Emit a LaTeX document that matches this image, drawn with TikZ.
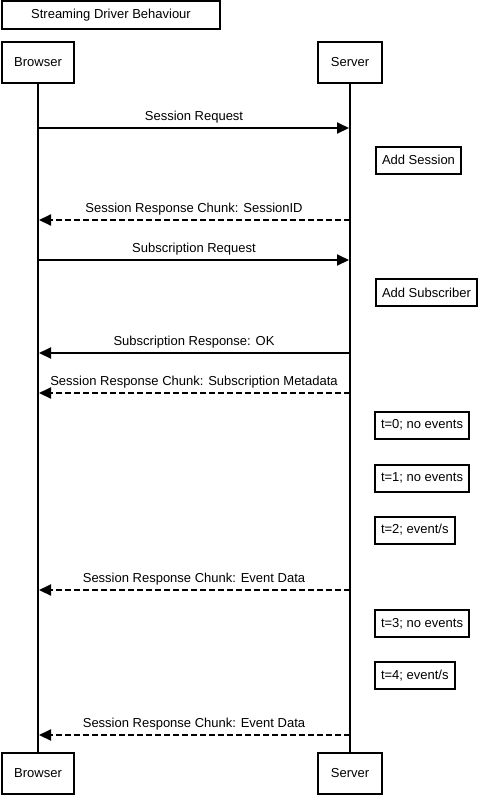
\documentclass[tikz,border=0pt]{standalone}
\usepackage{fontspec}
\setmainfont{Liberation Sans}
\usetikzlibrary{arrows.meta}
\begin{document}
\begin{tikzpicture}[x=1pt,y=-1pt,
  font=\fontsize{13}{15}\selectfont,
  box/.style={draw,line width=2pt,fill=white,inner xsep=0pt,inner ysep=0pt,minimum height=#1},
  box/.default=28pt,
  actor/.style={draw,line width=2pt,fill=white,minimum height=41pt,inner sep=0pt},
  note/.style={draw,line width=2pt,fill=white,minimum height=27pt,inner xsep=6pt,inner ysep=0pt,anchor=west},
  life/.style={line width=2pt},
  msg/.style={line width=2pt,-{Triangle[length=12pt,width=11pt]},shorten >=1pt},
  reply/.style={msg,dash pattern=on 6pt off 3pt},
  lbl/.style={midway,above=4pt,inner sep=0pt}]
\useasboundingbox (0,0) rectangle (479,796);
\node[box,minimum width=218pt] (title) at (111,15) {Streaming Driver Behaviour};
\node[actor,minimum width=72pt] (bt) at (38,62) {Browser};
\node[actor,minimum width=64pt] (st) at (350,62) {Server};
\node[actor,minimum width=72pt] (bb) at (38,773.5) {Browser};
\node[actor,minimum width=64pt] (sb) at (350,773.5) {Server};
\draw[life] (bt) -- (bb);
\draw[life] (st) -- (sb);
% message anchor coordinates
\coordinate (b1) at (38,128); \coordinate (s1) at (350,128);
\coordinate (b2) at (38,220); \coordinate (s2) at (350,220);
\coordinate (b3) at (38,260); \coordinate (s3) at (350,260);
\coordinate (b4) at (38,353); \coordinate (s4) at (350,353);
\coordinate (b5) at (38,393); \coordinate (s5) at (350,393);
\coordinate (b6) at (38,590); \coordinate (s6) at (350,590);
\coordinate (b7) at (38,735); \coordinate (s7) at (350,735);
\draw[msg] (b1) -- node[lbl] {Session Request} (s1);
\draw[reply] (s2) -- node[lbl] {Session Response Chunk: SessionID} (b2);
\draw[msg] (b3) -- node[lbl] {Subscription Request} (s3);
\draw[msg] (s4) -- node[lbl] {Subscription Response: OK} (b4);
\draw[reply] (s5) -- node[lbl] {Session Response Chunk: Subscription Metadata} (b5);
\draw[reply] (s6) -- node[lbl] {Session Response Chunk: Event Data} (b6);
\draw[reply] (s7) -- node[lbl] {Session Response Chunk: Event Data} (b7);
% notes
\node[note] (n1) at (375,160) {Add Session};
\node[note] (n2) at (375,292.5) {Add Subscriber};
\node[note] (n3) at (374,425) {t=0; no events};
\node[note] (n4) at (374,478) {t=1; no events};
\node[note] (n5) at (374,530) {t=2; event/s};
\node[note] (n6) at (374,623.5) {t=3; no events};
\node[note] (n7) at (374,675.5) {t=4; event/s};
\end{tikzpicture}
\end{document}
